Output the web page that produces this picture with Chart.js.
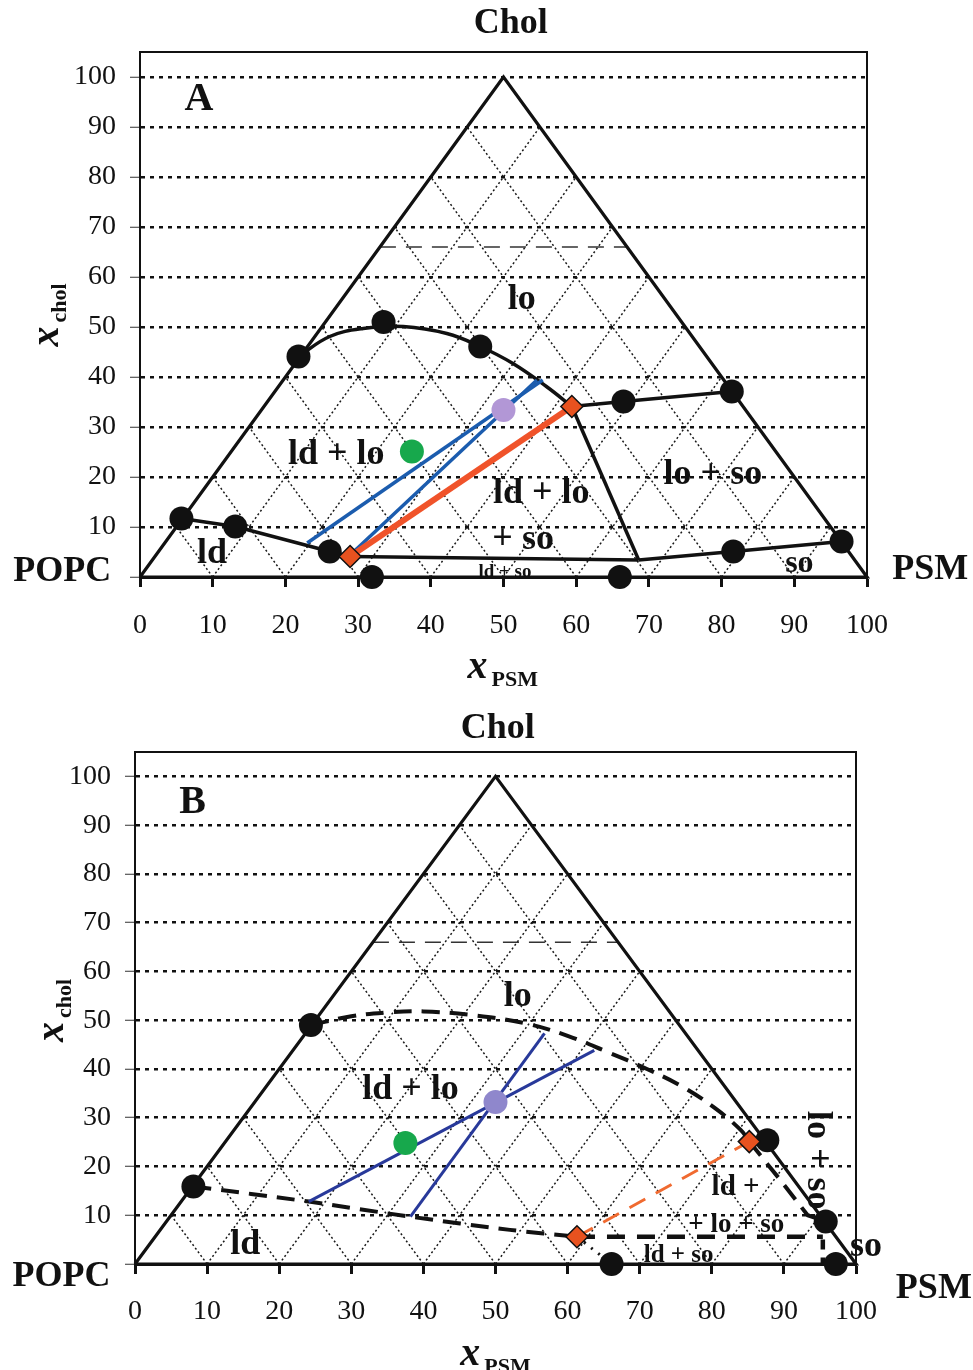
<!DOCTYPE html>
<html>
<head>
<meta charset="utf-8">
<script src="https://cdn.jsdelivr.net/npm/chart.js@4.4.1/dist/chart.umd.min.js"></script>
<style>
  body { margin: 0; background: #fff; }
  .panel { position: relative; width: 973px; }
  #wrapA { height: 690px; }
  #wrapB { height: 680px; }
</style>
</head>
<body>
<div class="panel" id="wrapA"><canvas id="chartA"></canvas></div>
<div class="panel" id="wrapB"><canvas id="chartB"></canvas></div>
<script>
// 三角形と格子
const triX = [0, 50, 100, 0];
const triY = [0, 100, 0, 0];
const gridLevels = [10, 20, 30, 40, 50, 60, 70, 80, 90];
const yTickVals = [0, 10, 20, 30, 40, 50, 60, 70, 80, 90, 100];
const guideX = [33, 67];
const guideY = [66, 66];

// ---- パネル A ----
const aDotX = [5.7, 13.1, 21.8, 33.5, 46.8, 66.5, 81.4, 96.5, 81.6, 26.1, 31.9, 66.0];
const aDotY = [11.7, 10.1, 44.1, 51.0, 46.1, 35.1, 37.1, 7.1, 5.1, 5.1, 0, 0];
const aDiaX = [28.9, 59.4];
const aDiaY = [4.1, 34.1];
const aLdX = [5.7, 13.1, 26.1, 28.9];
const aLdY = [11.7, 10.1, 5.1, 4.1];
const aLoX = [21.8, 26.1, 30.7, 36.2, 42.2, 46.8, 51.3, 55.9, 59.4];
const aLoY = [44.1, 48.1, 49.7, 50.1, 48.7, 46.1, 42.7, 38.1, 34.1];
const aEdgeX = [59.4, 68.6];
const aEdgeY = [34.1, 3.4];
const aBaseX = [28.9, 68.6];
const aBaseY = [4.1, 3.4];
const aSoX = [68.6, 81.6, 96.5];
const aSoY = [3.4, 5.1, 7.1];
const aLoSoX = [59.4, 66.5, 81.4];
const aLoSoY = [34.1, 35.1, 37.1];
const aTie1X = [23.0, 55.4];
const aTie1Y = [6.8, 39.4];
const aTie2X = [29.2, 54.6];
const aTie2Y = [4.8, 39.4];
const aTieRedX = [28.9, 59.4];
const aTieRedY = [4.1, 34.1];
const aPurple = [50.0, 33.4];
const aGreen = [37.4, 25.1];

// ---- パネル B ----
const bDotX = [24.4, 8.1, 87.7, 95.8, 66.1, 97.2];
const bDotY = [49.0, 15.9, 25.4, 8.7, 0, 0];
const bDiaX = [85.2, 61.3];
const bDiaY = [25.1, 5.6];
const bLoX = [24.4, 30.0, 35.0, 40.0, 47.0, 54.3, 60.0, 65.5, 71.0, 76.0, 80.4, 84.0, 85.2];
const bLoY = [49.0, 50.8, 51.6, 51.8, 51.0, 49.3, 46.8, 43.5, 40.0, 36.3, 32.0, 27.5, 25.1];
const bLoSoX = [85.2, 89.3, 93.3, 95.8];
const bLoSoY = [25.1, 17.6, 10.0, 8.7];
const bLdX = [8.1, 24.1, 38.2, 52.0, 61.3];
const bLdY = [15.9, 12.8, 9.7, 7.0, 5.6];
const bBaseX = [61.3, 95.4];
const bBaseY = [5.6, 5.6];
const bSoX = [95.4, 95.4];
const bSoY = [8.7, 0];
const bLdSoX = [61.3, 66.1];
const bLdSoY = [5.6, 0];
const bTie1X = [24.1, 63.7];
const bTie1Y = [12.8, 43.8];
const bTie2X = [38.2, 56.8];
const bTie2Y = [9.7, 47.3];
const bTieRedX = [61.3, 85.2];
const bTieRedY = [5.6, 25.1];
const bPurple = [50.0, 33.2];
const bGreen = [37.5, 24.8];

const SERIF = '"Liberation Serif", "DejaVu Serif", serif';

const notesA = [
  { text: 'A', x: 8.1, y: 95.4, size: 40 },
  { text: 'lo', x: 52.5, y: 55.4, size: 36 },
  { text: 'ld + lo', x: 27.0, y: 24.4, size: 36 },
  { text: 'ld + lo', x: 55.2, y: 16.7, size: 36 },
  { text: '+ so', x: 52.7, y: 7.4, size: 36 },
  { text: 'ld + so', x: 50.2, y: 0.9, size: 19 },
  { text: 'lo + so', x: 78.8, y: 20.4, size: 36 },
  { text: 'ld', x: 9.9, y: 4.7, size: 36 },
  { text: 'so', x: 90.7, y: 2.6, size: 32 },
  { text: 'POPC', x: -10.7, y: 1.0, size: 36 },
  { text: 'PSM', x: 108.7, y: 1.4, size: 36 },
  { text: 'Chol', x: 51.0, y: 110.6, size: 36 }
];
const notesB = [
  { text: 'B', x: 8.0, y: 94.6, size: 40 },
  { text: 'lo', x: 53.1, y: 54.8, size: 36 },
  { text: 'ld + lo', x: 38.2, y: 35.7, size: 36 },
  { text: 'ld +', x: 83.3, y: 15.6, size: 29 },
  { text: '+ lo + so', x: 83.4, y: 8.0, size: 27 },
  { text: 'ld + so', x: 75.4, y: 1.8, size: 25 },
  { text: 'ld', x: 15.3, y: 3.9, size: 36 },
  { text: 'so', x: 101.4, y: 3.5, size: 36 },
  { text: 'lo + so', x: 94.7, y: 21.3, size: 36, rot: 90 },
  { text: 'POPC', x: -10.2, y: -2.7, size: 36 },
  { text: 'PSM', x: 110.8, y: -5.0, size: 36 },
  { text: 'Chol', x: 50.3, y: 109.7, size: 36 }
];

function pts(xs, ys) {
  return xs.map((x, i) => ({ x: x, y: ys[i] }));
}

// 三角格子 (成分一定の線)
function gridPoints() {
  const out = [];
  for (const k of gridLevels) {
    out.push({ x: k, y: 0 }, { x: 50 + k / 2, y: 100 - k }, { x: k, y: null });
    out.push({ x: 100 - k, y: 0 }, { x: (100 - k) / 2, y: 100 - k }, { x: k, y: null });
  }
  return out;
}

function line(xs, ys, color, width, dash, order, extra) {
  return Object.assign({
    data: pts(xs, ys), showLine: true, borderColor: color, borderWidth: width,
    borderDash: dash || [], pointRadius: 0, fill: false, clip: false, order: order
  }, extra || {});
}

function dots(xs, ys, color, r, style, order) {
  return {
    data: pts(xs, ys), showLine: false, pointRadius: r, pointStyle: style || 'circle',
    backgroundColor: color, borderColor: style === 'rectRot' ? '#111' : color,
    borderWidth: style === 'rectRot' ? 1.5 : 0, clip: false, order: order
  };
}

function drawSub(ctx, main, sub, cx, cy, rot) {
  const mainFont = `italic bold 40px ${SERIF}`;
  const subFont = `bold 22px ${SERIF}`;
  ctx.save();
  ctx.translate(cx, cy);
  if (rot) ctx.rotate(rot);
  ctx.font = mainFont;
  const w1 = ctx.measureText(main).width;
  ctx.font = subFont;
  const w2 = ctx.measureText(sub).width;
  const start = -(w1 + 4 + w2) / 2;
  ctx.textAlign = 'left';
  ctx.textBaseline = 'alphabetic';
  ctx.font = mainFont;
  ctx.fillText(main, start, 8);
  ctx.font = subFont;
  ctx.fillText(sub, start + w1 + 4, 16);
  ctx.restore();
}

const decor = {
  id: 'decor',
  afterDraw(chart, args, opts) {
    const { ctx, chartArea: a } = chart;
    const sx = chart.scales.x, sy = chart.scales.y;
    ctx.save();
    ctx.setLineDash([]);
    ctx.strokeStyle = '#111';
    ctx.lineWidth = 2;
    ctx.strokeRect(a.left, a.top, a.right - a.left, a.bottom - a.top);
    ctx.fillStyle = '#111';
    ctx.textAlign = 'center';
    ctx.textBaseline = 'middle';
    for (const n of opts.notes) {
      ctx.save();
      ctx.translate(sx.getPixelForValue(n.x), sy.getPixelForValue(n.y));
      if (n.rot) ctx.rotate(n.rot * Math.PI / 180);
      ctx.font = `bold ${n.size}px ${SERIF}`;
      ctx.fillText(n.text, 0, 0);
      ctx.restore();
    }
    const t = opts.titles;
    drawSub(ctx, 'x', 'PSM', sx.getPixelForValue(t.xt[0]), sy.getPixelForValue(t.xt[1]), 0);
    drawSub(ctx, 'x', 'chol', sx.getPixelForValue(t.yt[0]), sy.getPixelForValue(t.yt[1]), -Math.PI / 2);
    ctx.restore();
  }
};

function makeChart(id, sets, notes, titles, box) {
  new Chart(document.getElementById(id), {
    type: 'scatter',
    data: { datasets: sets },
    options: {
      responsive: true,
      maintainAspectRatio: false,
      animation: false,
      layout: { padding: { top: box.top, right: box.right, left: 0, bottom: 0 } },
      plugins: {
        legend: { display: false },
        tooltip: { enabled: false },
        decor: { notes: notes, titles: titles }
      },
      scales: {
        x: {
          type: 'linear', min: 0, max: 100,
          afterFit: s => { s.height = box.xh; },
          ticks: { stepSize: 10, color: '#111', padding: box.xpad, font: { family: SERIF, size: 28 } },
          grid: { drawOnChartArea: false, drawTicks: true, tickLength: 10, tickWidth: 3, tickColor: '#111' },
          border: { color: '#111', width: 3 }
        },
        y: {
          type: 'linear', min: 0, max: 105,
          afterFit: s => { s.width = box.yw; },
          afterBuildTicks: s => { s.ticks = yTickVals.map(v => ({ value: v })); },
          ticks: {
            color: '#111', padding: 14, font: { family: SERIF, size: 28 },
            callback: v => (v === 0 ? '' : v)
          },
          grid: {
            color: '#111', lineWidth: 2.5, borderDash: [4, 5],
            tickLength: 10, tickWidth: 1, tickColor: '#333', tickBorderDash: []
          },
          border: { color: '#111', width: 2, dash: [4, 5] }
        }
      }
    },
    plugins: [decor]
  });
}

const gridSet = {
  data: gridPoints(), showLine: true, borderColor: '#1a1a1a', borderWidth: 1.5,
  borderDash: [2, 2.5], pointRadius: 0, spanGaps: false, clip: false, order: 20
};

const setsA = [
  Object.assign({}, gridSet),
  line(guideX, guideY, '#333', 1.5, [16, 10], 19),
  line(triX, triY, '#111', 3.2, [], 10),
  line(aLdX, aLdY, '#111', 3.5, [], 8),
  line(aLoX, aLoY, '#111', 3.5, [], 8, { tension: 0.4 }),
  line(aEdgeX, aEdgeY, '#111', 3.5, [], 8),
  line(aBaseX, aBaseY, '#111', 3.5, [], 8),
  line(aSoX, aSoY, '#111', 3.5, [], 8),
  line(aLoSoX, aLoSoY, '#111', 3.5, [], 8),
  line(aTie1X, aTie1Y, '#1b5cae', 3.5, [], 6),
  line(aTie2X, aTie2Y, '#1b5cae', 3.5, [], 6),
  line(aTieRedX, aTieRedY, '#f0532a', 6, [], 5),
  dots(aDotX, aDotY, '#111', 12, 'circle', 3),
  dots([aPurple[0]], [aPurple[1]], '#b297d6', 12, 'circle', 2),
  dots([aGreen[0]], [aGreen[1]], '#17a84c', 12, 'circle', 2),
  dots(aDiaX, aDiaY, '#e8521f', 11, 'rectRot', 1)
];

const setsB = [
  Object.assign({}, gridSet),
  line(guideX, guideY, '#333', 1.5, [16, 10], 19),
  line(triX, triY, '#111', 3.2, [], 10),
  line(bLoX, bLoY, '#111', 4, [18, 10], 8, { tension: 0.4 }),
  line(bLoSoX, bLoSoY, '#111', 4, [18, 10], 8),
  line(bLdX, bLdY, '#111', 4, [18, 10], 8, { tension: 0.3 }),
  line(bBaseX, bBaseY, '#111', 4.5, [18, 12], 8),
  line(bSoX, bSoY, '#111', 4.5, [10, 8], 8),
  line(bLdSoX, bLdSoY, '#111', 3, [2, 7], 8),
  line(bTie1X, bTie1Y, '#28399a', 3, [], 6),
  line(bTie2X, bTie2Y, '#28399a', 3, [], 6),
  line(bTieRedX, bTieRedY, '#f06a30', 3, [18, 12], 5),
  dots(bDotX, bDotY, '#111', 12, 'circle', 3),
  dots([bPurple[0]], [bPurple[1]], '#8f87cc', 12, 'circle', 2),
  dots([bGreen[0]], [bGreen[1]], '#17a84c', 12, 'circle', 2),
  dots(bDiaX, bDiaY, '#e8521f', 11, 'rectRot', 1)
];

makeChart('chartA', setsA, notesA, { xt: [49.9, -18.6], yt: [-12.4, 52.4] },
  { top: 52, right: 106, yw: 140, xh: 113, xpad: 22 });
makeChart('chartB', setsB, notesB, { xt: [50.0, -19.1], yt: [-11.1, 52.0] },
  { top: 62, right: 117, yw: 135, xh: 106, xpad: 21 });
</script>
</body>
</html>
